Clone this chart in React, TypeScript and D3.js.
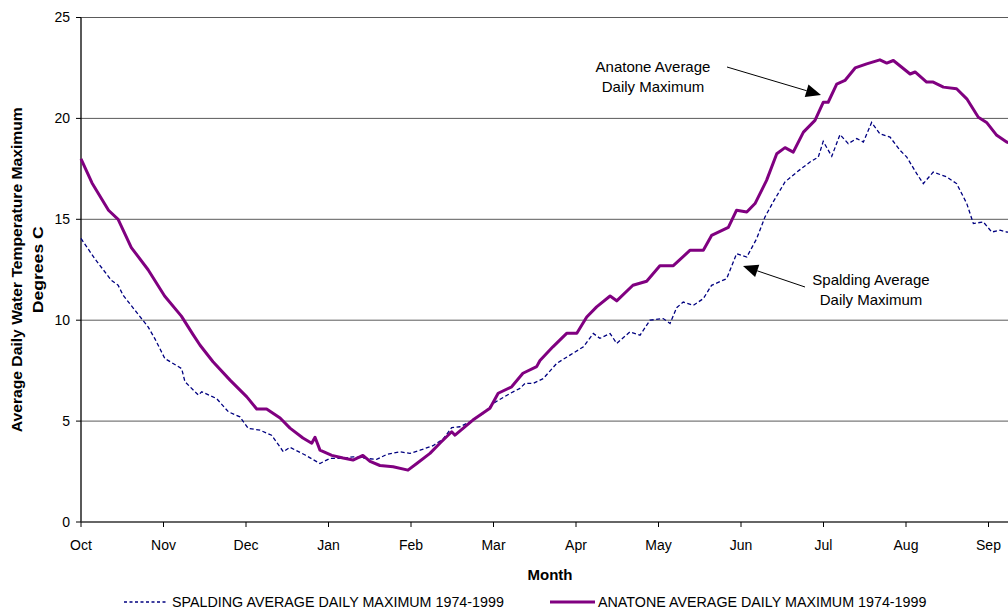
import React from "react";
import * as d3 from "d3";

// x values are "days" on an equal-month scale (30 per month, 0 = Oct 1)
const monthLabels = ["Oct", "Nov", "Dec", "Jan", "Feb", "Mar", "Apr", "May", "Jun", "Jul", "Aug", "Sep"];
const yTicks = [0, 5, 10, 15, 20, 25];

const anatoneDays = [0, 4, 10, 13.5, 18.3, 24.4, 30.4, 36.5, 40.7, 43.3, 48, 54.2, 60.3, 63.9, 67.5, 72.4, 76, 80.7, 83.9, 85.1, 86.9, 91.2, 95.3, 98.9, 102.5, 105.1, 108.7, 113.5, 118.9, 122.1, 126.9, 130.5, 134.8, 136, 142.5, 148.7, 151.7, 156.6, 160.7, 165.7, 166.9, 171.6, 176.6, 180.3, 183.9, 187.5, 192.4, 194.8, 200.7, 205.7, 210.5, 215.4, 221.5, 226.3, 229.3, 235.4, 238.4, 242.1, 245.1, 249.3, 253, 256, 259, 262.7, 266.9, 269.9, 271.7, 274.8, 277.8, 281.5, 285.7, 290.5, 293, 295.4, 301.5, 303.3, 307.5, 309.9, 313.6, 318.4, 322.1, 326.3, 329.3, 333, 336.6, 341.5, 348];
const anatoneValues = [18.0, 16.8, 15.45, 15.0, 13.6, 12.5, 11.2, 10.2, 9.3, 8.76, 7.94, 7.03, 6.2, 5.6, 5.6, 5.15, 4.65, 4.16, 3.9, 4.2, 3.56, 3.3, 3.17, 3.07, 3.3, 3.0, 2.8, 2.74, 2.57, 2.9, 3.4, 3.9, 4.47, 4.3, 5.05, 5.64, 6.38, 6.7, 7.37, 7.7, 8.0, 8.68, 9.35, 9.35, 10.16, 10.66, 11.2, 10.96, 11.73, 11.93, 12.7, 12.7, 13.47, 13.47, 14.2, 14.6, 15.45, 15.36, 15.78, 16.93, 18.25, 18.55, 18.33, 19.32, 19.9, 20.8, 20.8, 21.7, 21.88, 22.5, 22.7, 22.9, 22.74, 22.87, 22.2, 22.3, 21.8, 21.8, 21.55, 21.47, 20.97, 20.06, 19.8, 19.16, 18.83, 18.6, 18.3];

const spaldingDays = [0, 5, 11, 13.5, 15.3, 20.1, 24.4, 26.8, 30.5, 36.6, 37.8, 42.7, 43.9, 49.3, 53.6, 57.8, 60.8, 65.1, 69.3, 73.6, 76, 81.5, 86.9, 90.5, 94.8, 99, 103.9, 107.5, 111.2, 116, 119.6, 123.3, 128, 131.6, 134.8, 137.8, 141.5, 146.3, 149.9, 156, 159.6, 161.5, 164.5, 168.1, 173, 177.8, 182.7, 186.3, 188.7, 192.4, 194.8, 199.6, 203.3, 206.9, 211.7, 214.2, 216.6, 219, 222.7, 226.3, 229.3, 234.8, 238.4, 242.1, 245.7, 248.7, 251.7, 256, 260.3, 265.1, 268.1, 269.9, 273, 276, 279, 282.1, 284.5, 287.5, 290.5, 294.2, 297.8, 300.3, 303.9, 306.3, 309.9, 314.8, 318.4, 322.1, 324.5, 328.1, 331.2, 334.2, 336.6, 345];
const spaldingValues = [14.05, 13.05, 11.98, 11.73, 11.24, 10.41, 9.67, 9.1, 8.1, 7.6, 6.95, 6.29, 6.45, 6.12, 5.46, 5.21, 4.64, 4.55, 4.3, 3.48, 3.7, 3.32, 2.9, 3.15, 3.15, 3.23, 3.15, 3.1, 3.35, 3.48, 3.4, 3.56, 3.78, 4.1, 4.68, 4.72, 4.97, 5.38, 5.88, 6.37, 6.62, 6.87, 6.87, 7.11, 7.86, 8.27, 8.68, 9.34, 9.1, 9.34, 8.85, 9.42, 9.26, 10.0, 10.08, 9.84, 10.62, 10.9, 10.74, 11.07, 11.73, 12.06, 13.3, 13.13, 14.04, 15.11, 15.86, 16.85, 17.34, 17.84, 18.08, 18.86, 18.12, 19.2, 18.75, 19.0, 18.83, 19.8, 19.24, 19.07, 18.42, 18.08, 17.26, 16.77, 17.34, 17.1, 16.77, 15.78, 14.79, 14.87, 14.37, 14.46, 14.37, 14.3];

const legendLabels = ["SPALDING AVERAGE DAILY MAXIMUM 1974-1999", "ANATONE AVERAGE DAILY MAXIMUM 1974-1999"];
const yTitle = ["Average Daily Water Temperature Maximum", "Degrees C"];
const xTitle = "Month";
const annotations = [
  { lines: ["Anatone Average", "Daily Maximum"] },
  { lines: ["Spalding Average", "Daily Maximum"] },
];

const FONT = "'Liberation Sans', Arial, sans-serif";
const PURPLE = "#800080";
const NAVY = "#000080";

export default function App() {
  const W = 1008, H = 609;
  const left = 81, top = 17.5, bottom = 522;
  const monthW = 82.5;
  const x = d3.scaleLinear().domain([0, 360]).range([left, left + 12 * monthW]);
  const y = d3.scaleLinear().domain([0, 25]).range([bottom, top]);

  const line = d3.line<[number, number]>().x((d) => x(d[0])).y((d) => y(d[1])).curve(d3.curveLinear);
  const anatone = line(anatoneDays.map((d, i) => [d, anatoneValues[i]] as [number, number])) || "";
  const spalding = line(spaldingDays.map((d, i) => [d, spaldingValues[i]] as [number, number])) || "";

  const arrow = (x1: number, y1: number, x2: number, y2: number) => {
    const ang = Math.atan2(y2 - y1, x2 - x1);
    const len = 15, hw = 6.5;
    const bx = x2 - len * Math.cos(ang), by = y2 - len * Math.sin(ang);
    const px = -Math.sin(ang) * hw, py = Math.cos(ang) * hw;
    return (
      <g>
        <line x1={x1} y1={y1} x2={bx} y2={by} stroke="#000" strokeWidth={1} />
        <polygon points={`${x2},${y2} ${bx + px},${by + py} ${bx - px},${by - py}`} fill="#000" />
      </g>
    );
  };

  const midY = (top + bottom) / 2;

  return (
    <div style={{ position: "absolute", left: 0, top: 0, width: W, height: H, overflow: "hidden", background: "#fff" }}>
      <svg width={W} height={H} style={{ display: "block", fontFamily: FONT }}>
        <rect width={W} height={H} fill="#fff" />
        {/* gridlines */}
        {yTicks.filter((t) => t > 0).map((t) => (
          <line key={t} x1={left} x2={x(360)} y1={y(t)} y2={y(t)} stroke="#5a5a5a" strokeWidth={1} />
        ))}
        {/* y axis */}
        <line x1={left} x2={left} y1={top} y2={bottom} stroke="#000" strokeWidth={1.3} />
        {yTicks.map((t) => (
          <g key={t}>
            <line x1={left - 5} x2={left} y1={y(t)} y2={y(t)} stroke="#000" />
            <text x={left - 11} y={y(t)} dy="0.35em" textAnchor="end" fontSize={14} fill="#000">{t}</text>
          </g>
        ))}
        {/* x axis */}
        <line x1={left} x2={x(360)} y1={bottom} y2={bottom} stroke="#333" strokeWidth={1.5} />
        {monthLabels.map((m, i) => (
          <g key={m}>
            <line x1={x(i * 30)} x2={x(i * 30)} y1={bottom} y2={bottom + 5} stroke="#000" />
            <text x={x(i * 30)} y={545} dy="0.35em" textAnchor="middle" fontSize={14} fill="#000">{m}</text>
          </g>
        ))}
        {/* series */}
        <path d={spalding} fill="none" stroke={NAVY} strokeWidth={1.3} strokeDasharray="4,2.5" />
        <path d={anatone} fill="none" stroke={PURPLE} strokeWidth={3} strokeLinejoin="round" />
        {/* annotations */}
        {annotations[0].lines.map((l, i) => (
          <text key={l} x={653} y={67 + i * 20} dy="0.35em" textAnchor="middle" fontSize={15} fill="#000">{l}</text>
        ))}
        {arrow(727, 67, 821, 95)}
        {annotations[1].lines.map((l, i) => (
          <text key={l + i} x={871} y={280 + i * 20} dy="0.35em" textAnchor="middle" fontSize={15} fill="#000">{l}</text>
        ))}
        {arrow(805, 287, 743, 266)}
        {/* axis titles */}
        <text transform={`translate(17,${midY}) rotate(-90)`} dy="0.35em" textAnchor="middle" fontSize={15.5} fontWeight="bold" textLength={325} lengthAdjust="spacingAndGlyphs">{yTitle[0]}</text>
        <text transform={`translate(38,${midY}) rotate(-90)`} dy="0.35em" textAnchor="middle" fontSize={15.5} fontWeight="bold" textLength={87} lengthAdjust="spacingAndGlyphs">{yTitle[1]}</text>
        <text x={550} y={575} dy="0.35em" textAnchor="middle" fontSize={15} fontWeight="bold">{xTitle}</text>
        {/* legend */}
        <line x1={124} x2={167} y1={602} y2={602} stroke={NAVY} strokeWidth={1.5} strokeDasharray="3,2.5" />
        <text x={172} y={602} dy="0.35em" fontSize={14.3} fill="#000">{legendLabels[0]}</text>
        <line x1={550} x2={595} y1={602} y2={602} stroke={PURPLE} strokeWidth={3} />
        <text x={598} y={602} dy="0.35em" fontSize={14.3} fill="#000">{legendLabels[1]}</text>
      </svg>
    </div>
  );
}
